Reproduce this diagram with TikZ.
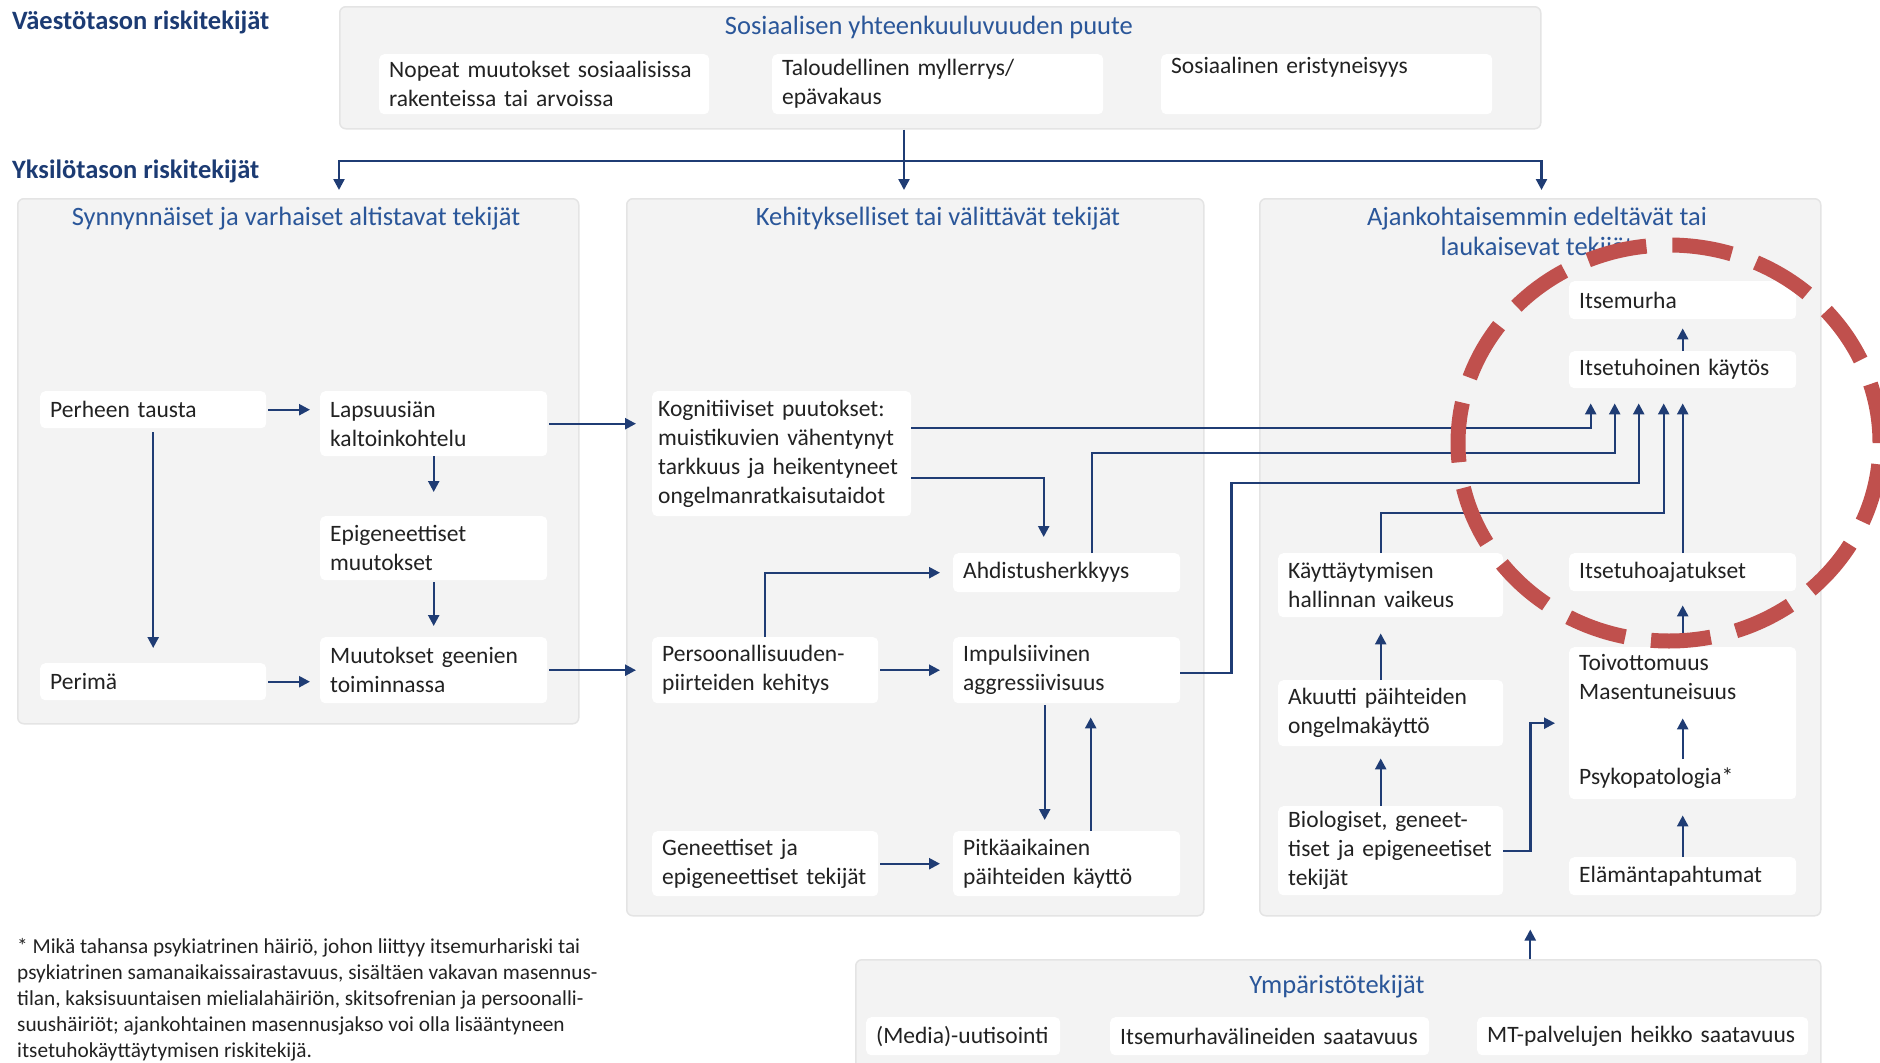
\documentclass[tikz,border=0pt]{standalone}
\usepackage{fontspec}
\setmainfont{Carlito}
\usetikzlibrary{arrows.meta}
\definecolor{pohja}{HTML}{F3F3F3}
\definecolor{reuna}{HTML}{E4E4E4}
\definecolor{otsikko}{HTML}{2A5699}
\definecolor{tumma}{HTML}{1C3B73}
\definecolor{nuolisin}{HTML}{1F3C74}
\definecolor{teksti}{HTML}{222222}
\definecolor{punainen}{HTML}{C0504D}
\newcommand{\leipa}{\fontsize{23.5}{29}\selectfont}
\newcommand{\otsi}{\fontsize{26.5}{30}\selectfont}
\newcommand{\alaviite}{\fontsize{21.3}{26}\selectfont}

\begin{document}
\begin{tikzpicture}[x=1pt, y=-1pt,
    alue/.style={fill=pohja, draw=reuna, line width=1.5pt, rounded corners=6pt, anchor=north west, inner sep=0pt},
    tekija/.style={fill=white, rounded corners=5pt, anchor=north west, align=left, inner xsep=10pt, inner ysep=0pt, text=teksti, font=\leipa},
    koko/.style 2 args={text width=#1, minimum height=#2},
    alueotsikko/.style={text=otsikko, font=\otsi, align=center, inner sep=0pt},
    taso/.style={text=tumma, font=\otsi\bfseries, anchor=west, inner sep=0pt},
    nuoli/.style={draw=nuolisin, line width=2.4pt, -{Triangle[length=11pt, width=11pt]}},
    viiva/.style={draw=nuolisin, line width=2.4pt}]
    \useasboundingbox (0,0) rectangle (1880,1063);

    \node[taso] (vaesto) at (12,22) {Väestötason riskitekijät};
    \node[taso] (yksilo) at (12,171) {Yksilötason riskitekijät};

    \node[alue, minimum width=1201pt, minimum height=122pt] (puute) at (339,6) {};
    \node[alueotsikko] (puuteots) at (929,27) {Sosiaalisen yhteenkuuluvuuden puute};
    \node[tekija, koko={310pt}{60pt}] (nopeat) at (379,54) {Nopeat muutokset sosiaalisissa\\rakenteissa tai arvoissa};
    \node[tekija, koko={311pt}{60pt}] (talous) at (772,54) {Taloudellinen myllerrys/\\epävakaus};
    \node[tekija, koko={311pt}{60pt}] (eristys) at (1161,54) {Sosiaalinen eristyneisyys\\\strut};

    \node[alue, minimum width=561pt, minimum height=525pt] (synty) at (17,198) {};
    \node[alue, minimum width=577pt, minimum height=717pt] (kehitys) at (626,198) {};
    \node[alue, minimum width=561pt, minimum height=717pt] (ajank) at (1259,198) {};
    \node[alue, minimum width=965pt, minimum height=130pt] (ymparisto) at (855,959) {};
    \node[alueotsikko] (syntyots) at (296,219) {Synnynnäiset ja varhaiset altistavat tekijät};
    \node[alueotsikko] (kehitysots) at (938,219) {Kehitykselliset tai välittävät tekijät};
    \node[alueotsikko] (ajankots) at (1537,234) {Ajankohtaisemmin edeltävät tai\\laukaisevat tekijät};
    \node[alueotsikko] (ymparistoots) at (1337,987) {Ympäristötekijät};

    \node[tekija, koko={206pt}{37pt}] (perhe) at (40,391) {Perheen tausta};
    \node[tekija, koko={207pt}{65pt}] (lapsuus) at (320,391) {Lapsuusiän\\kaltoinkohtelu};
    \node[tekija, koko={207pt}{64pt}] (epigen) at (320,516) {Epigeneettiset\\muutokset};
    \node[tekija, koko={207pt}{66pt}] (geenit) at (320,637) {Muutokset geenien\\toiminnassa};
    \node[tekija, koko={206pt}{37pt}] (perima) at (40,663) {Perimä};

    \node[tekija, inner xsep=6pt, koko={247pt}{125pt}] (kogn) at (652,391) {Kognitiiviset puutokset:\\muistikuvien vähentynyt\\tarkkuus ja heikentyneet\\ongelmanratkaisutaidot};
    \node[tekija, koko={207pt}{39pt}] (ahdistus) at (953,553) {Ahdistusherkkyys};
    \node[tekija, koko={206pt}{66pt}] (persoona) at (652,637) {Persoonallisuuden-\\piirteiden kehitys};
    \node[tekija, koko={207pt}{66pt}] (impuls) at (953,637) {Impulsiivinen\\aggressiivisuus};
    \node[tekija, koko={206pt}{65pt}] (geneet) at (652,831) {Geneettiset ja\\epigeneettiset tekijät};
    \node[tekija, koko={207pt}{65pt}] (pitka) at (953,831) {Pitkäaikainen\\päihteiden käyttö};

    \node[tekija, koko={207pt}{38pt}] (itsemurha) at (1569,281) {Itsemurha};
    \node[tekija, koko={207pt}{37pt}] (kaytos) at (1569,351) {Itsetuhoinen käytös};
    \node[tekija, koko={205pt}{64pt}] (hallinta) at (1278,553) {Käyttäytymisen\\hallinnan vaikeus};
    \node[tekija, koko={207pt}{38pt}] (ajatukset) at (1569,553) {Itsetuhoajatukset};
    \node[tekija, koko={207pt}{152pt}] (mieli) at (1569,647) {};
    \node[tekija, fill=none, koko={207pt}{60pt}] (toivo) at (1569,647) {Toivottomuus\\Masentuneisuus};
    \node[tekija, fill=none, koko={207pt}{38pt}] (psyko) at (1569,759) {Psykopatologia*};
    \node[tekija, koko={205pt}{66pt}] (akuutti) at (1278,680) {Akuutti päihteiden\\ongelmakäyttö};
    \node[tekija, koko={205pt}{89pt}] (biolog) at (1278,806) {Biologiset, geneet-\\tiset ja epigeneetiset\\tekijät};
    \node[tekija, koko={207pt}{38pt}] (elama) at (1569,857) {Elämäntapahtumat};

    \node[tekija, koko={174pt}{38pt}] (media) at (866,1017) {(Media)-uutisointi};
    \node[tekija, koko={299pt}{38pt}] (valine) at (1110,1017) {Itsemurhavälineiden saatavuus};
    \node[tekija, koko={311pt}{38pt}] (mtpalv) at (1477,1017) {MT-palvelujen heikko saatavuus};

    \node[anchor=north west, align=left, inner sep=0pt, text=teksti, font=\alaviite] (alaviite) at (17,938) {* Mikä tahansa psykiatrinen häiriö, johon liittyy itsemurhariski tai\\psykiatrinen samanaikaissairastavuus, sisältäen vakavan masennus-\\tilan, kaksisuuntaisen mielialahäiriön, skitsofrenian ja persoonalli-\\suushäiriöt; ajankohtainen masennusjakso voi olla lisääntyneen\\itsetuhokäyttäytymisen riskitekijä.};

    \coordinate (haara) at (904,161);
    \draw[viiva] (haara |- puute.south) -- (haara);
    \draw[nuoli, shorten >=8pt] (haara) -| (puute.west |- synty.north);
    \draw[nuoli, shorten >=8pt] (haara) -- (haara |- kehitys.north);
    \draw[nuoli, shorten >=8pt] (haara) -| (puute.east |- ajank.north);

    \draw[nuoli, shorten <=2pt, shorten >=10pt] (perhe.east) -- (perhe.east -| lapsuus.west);
    \draw[nuoli, shorten <=4pt, shorten >=15pt] (perhe.south) -- (perima.north);
    \draw[nuoli, shorten <=2pt, shorten >=10pt] (perima.east) -- (perima.east -| geenit.west);
    \draw[nuoli, shorten >=24pt] (lapsuus.south) -- (epigen.north);
    \draw[nuoli, shorten <=2pt, shorten >=11pt] (epigen.south) -- (geenit.north);
    \draw[nuoli, shorten <=2pt, shorten >=16pt] (lapsuus.east) -- (lapsuus.east -| kogn.west);
    \draw[nuoli, shorten <=2pt, shorten >=16pt] (geenit.east) -- (geenit.east -| persoona.west);

    \draw[nuoli, shorten >=16pt] ([yshift=-24pt]kogn.east) -| ([xshift=-23pt]ahdistus.north);
    \draw[nuoli, shorten >=13pt] (persoona.north) |- (ahdistus.west);
    \draw[nuoli, shorten <=2pt, shorten >=13pt] (persoona.east) -- (persoona.east -| impuls.west);
    \draw[nuoli, shorten <=2pt, shorten >=13pt] (geneet.east) -- (geneet.east -| pitka.west);
    \draw[nuoli, shorten <=2pt, shorten >=11pt] ([xshift=-22pt]impuls.south) -- ([xshift=-22pt]pitka.north);
    \draw[nuoli, shorten >=14pt] ([xshift=24pt]pitka.north) -- ([xshift=24pt]impuls.south);

    \draw[nuoli, shorten >=15pt] ([yshift=26pt]kogn.east) -| ([xshift=-92pt]kaytos.south);
    \draw[nuoli, shorten >=15pt] ([xshift=25pt]ahdistus.north) -- ++(0,-100) -| ([xshift=-68pt]kaytos.south);
    \draw[nuoli, shorten >=15pt] ([yshift=-3pt]impuls.east) -- ++(51,0) -- ++(0,-190) -| ([xshift=-44pt]kaytos.south);
    \draw[nuoli, shorten >=15pt] ([xshift=-10pt]hallinta.north) -- ++(0,-40) -| ([xshift=-19pt]kaytos.south);
    \draw[nuoli, shorten >=15pt] (ajatukset.north) -- (kaytos.south);
    \draw[nuoli, shorten >=9pt] (kaytos.north) -- (itsemurha.south);

    \draw[nuoli, shorten >=16pt] ([xshift=-10pt]akuutti.north) -- ([xshift=-10pt]hallinta.south);
    \draw[nuoli, shorten >=12pt] ([xshift=-10pt]biolog.north) -- ([xshift=-10pt]akuutti.south);
    \draw[nuoli, shorten >=14pt] (biolog.east) -- ++(27,0) |- (mieli.west);
    \draw[nuoli, shorten >=16pt] (elama.north) -- (mieli.south);
    \draw[nuoli, shorten >=11pt] (psyko.north) -- (toivo.south);
    \draw[nuoli, shorten >=14pt] (mieli.north) -- (ajatukset.south);
    \draw[nuoli, shorten >=13pt] ([xshift=192pt]ymparisto.north) -- ([xshift=192pt]ymparisto.north |- ajank.south);

    \draw[punainen, line width=15pt, dash pattern=on 60pt off 26pt] (1669,443) ellipse [x radius=211pt, y radius=198pt];
\end{tikzpicture}
\end{document}
